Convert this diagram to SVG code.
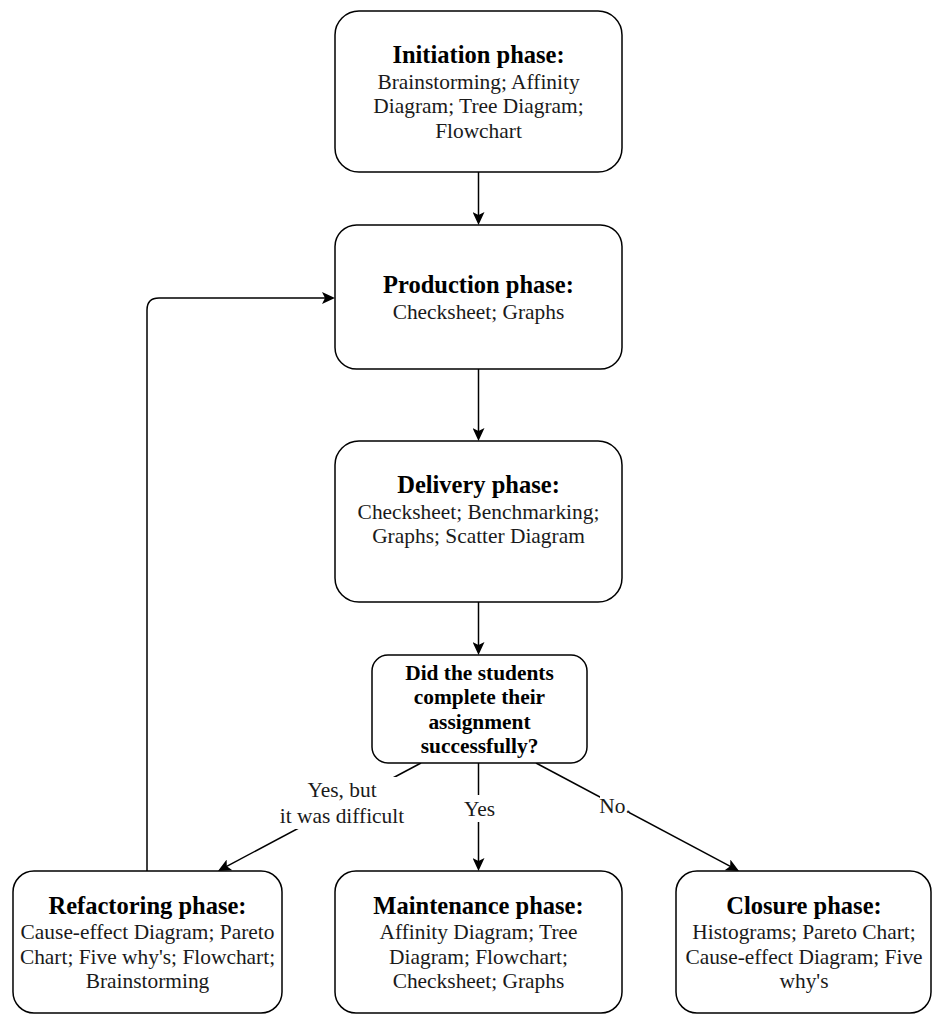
<svg xmlns="http://www.w3.org/2000/svg" width="933" height="1014" viewBox="0 0 933 1014">
  <style>
    .box { fill: #ffffff; stroke: #000000; stroke-width: 1.5; }
    .edge { fill: none; stroke: #000000; stroke-width: 1.5; }
    text { font-family: "Liberation Serif", "Times New Roman", serif; fill: #000000; text-anchor: middle; }
    .title { font-size: 24.5px; font-weight: bold; }
    .body { font-size: 21.4px; fill: #1a1a1a; }
    .q { font-size: 21.4px; font-weight: bold; }
    .lbl { font-size: 21.4px; fill: #1a1a1a; }
    .lblbg { fill: #ffffff; stroke: none; }
  </style>
  <defs>
    <marker id="arrow" markerUnits="userSpaceOnUse" markerWidth="14" markerHeight="12" refX="9" refY="6" orient="auto">
      <path d="M0,0 L13,6 L0,12 L3,6 Z" fill="#000000"/>
    </marker>
  </defs>

  <rect width="933" height="1014" fill="#ffffff"/>

  <!-- connectors -->
  <g id="connectors">
    <path class="edge" d="M478.5,172 V221" marker-end="url(#arrow)"/>
    <path class="edge" d="M478.5,369 V437" marker-end="url(#arrow)"/>
    <path class="edge" d="M478.5,602 V651" marker-end="url(#arrow)"/>
    <path class="edge" d="M147,871 V310 Q147,298 159,298 H331" marker-end="url(#arrow)"/>
    <path class="edge" d="M421,763 L221.5,869.1" marker-end="url(#arrow)"/>
    <path class="edge" d="M478.5,763 V867" marker-end="url(#arrow)"/>
    <path class="edge" d="M536,763 L735.5,869.1" marker-end="url(#arrow)"/>

    <!-- edge labels -->
    <g id="label-yes-difficult">
      <rect class="lblbg" x="277" y="777" width="131" height="52"/>
      <text class="lbl" x="342" y="797">Yes, but</text>
      <text class="lbl" x="342" y="823">it was difficult</text>
    </g>
    <g id="label-yes">
      <rect class="lblbg" x="464" y="795" width="31" height="27"/>
      <text class="lbl" x="479.5" y="816">Yes</text>
    </g>
    <g id="label-no">
      <rect class="lblbg" x="600" y="795" width="29" height="22"/>
      <text class="lbl" x="615" y="813">No.</text>
    </g>
  </g>

  <!-- phase nodes -->
  <g id="initiation">
    <rect class="box" x="335" y="11" width="287" height="161" rx="24" ry="24"/>
    <text class="title" x="478.5" y="63">Initiation phase:</text>
    <text class="body" x="478.5" y="88.5">Brainstorming; Affinity</text>
    <text class="body" x="478.5" y="113">Diagram; Tree Diagram;</text>
    <text class="body" x="478.5" y="137.5">Flowchart</text>
  </g>

  <g id="production">
    <rect class="box" x="335" y="225" width="287" height="144" rx="21.6" ry="21.6"/>
    <text class="title" x="478.5" y="293">Production phase:</text>
    <text class="body" x="478.5" y="318.5">Checksheet; Graphs</text>
  </g>

  <g id="delivery">
    <rect class="box" x="335" y="441" width="287" height="161" rx="24" ry="24"/>
    <text class="title" x="478.5" y="493">Delivery phase:</text>
    <text class="body" x="478.5" y="518.5">Checksheet; Benchmarking;</text>
    <text class="body" x="478.5" y="543">Graphs; Scatter Diagram</text>
  </g>

  <g id="decision">
    <rect class="box" x="372" y="655" width="215" height="108" rx="16" ry="16"/>
    <text class="q" x="479.5" y="679.5">Did the students</text>
    <text class="q" x="479.5" y="704">complete their</text>
    <text class="q" x="479.5" y="728.5">assignment</text>
    <text class="q" x="479.5" y="753">successfully?</text>
  </g>

  <g id="refactoring">
    <rect class="box" x="13" y="871" width="269" height="142" rx="21" ry="21"/>
    <text class="title" x="147.5" y="913.5">Refactoring phase:</text>
    <text class="body" x="147.5" y="939">Cause-effect Diagram; Pareto</text>
    <text class="body" x="147.5" y="963.5">Chart; Five why's; Flowchart;</text>
    <text class="body" x="147.5" y="988">Brainstorming</text>
  </g>

  <g id="maintenance">
    <rect class="box" x="335" y="871" width="287" height="142" rx="21" ry="21"/>
    <text class="title" x="478.5" y="913.5">Maintenance phase:</text>
    <text class="body" x="478.5" y="939">Affinity Diagram; Tree</text>
    <text class="body" x="478.5" y="963.5">Diagram; Flowchart;</text>
    <text class="body" x="478.5" y="988">Checksheet; Graphs</text>
  </g>

  <g id="closure">
    <rect class="box" x="676" y="871" width="255" height="142" rx="21" ry="21"/>
    <text class="title" x="804" y="913.5">Closure phase:</text>
    <text class="body" x="804" y="939">Histograms; Pareto Chart;</text>
    <text class="body" x="804" y="963.5">Cause-effect Diagram; Five</text>
    <text class="body" x="804" y="988">why's</text>
  </g>
</svg>
